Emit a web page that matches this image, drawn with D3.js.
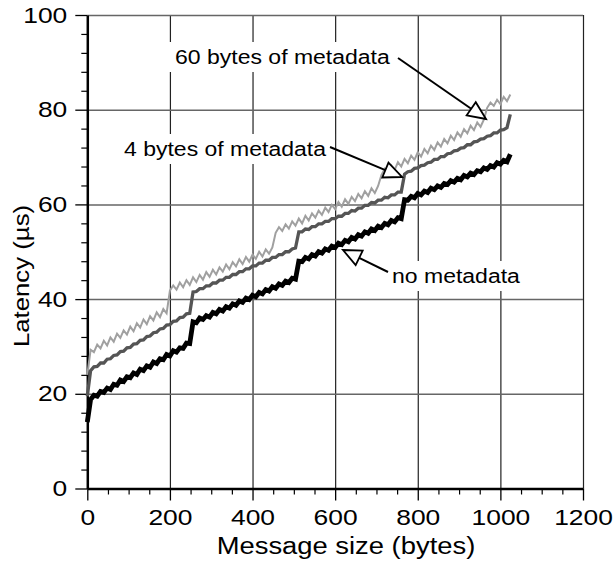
<!DOCTYPE html>
<html>
<head>
<meta charset="utf-8">
<script src="https://cdn.jsdelivr.net/npm/d3@7"></script>
<style>
  body { margin: 0; background: #fff; }
  text { font-family: "Liberation Sans", Arial, Helvetica, sans-serif; fill: #000; }
</style>
</head>
<body>
<div id="chart-area"></div>
<script>
// message size in bytes (x of every series)
var msgSize = [0,8,16,24,32,40,48,56,64,72,80,88,96,104,112,120,128,136,144,152,160,168,176,184,192,200,
  208,216,224,232,240,248,256,264,272,280,288,296,304,312,320,328,336,344,352,360,368,376,384,392,400,
  408,416,424,432,440,448,456,464,472,480,488,496,504,512,520,528,536,544,552,560,568,576,584,592,600,
  608,616,624,632,640,648,656,664,672,680,688,696,704,712,720,728,736,744,752,760,768,776,784,792,800,
  808,816,824,832,840,848,856,864,872,880,888,896,904,912,920,928,936,944,952,960,968,976,984,992,1000,
  1008,1016,1024];

// latency (us), 60 bytes of metadata
var meta60 = [24.0,
  29.3,28.8,30.4,29.6,31.2,30.2,31.9,31.0,32.7,31.8,33.4,32.5,34.2,33.2,34.9,34.0,35.7,34.7,36.4,35.5,37.2,36.2,37.9,37.0,
  41.8,42.9,42.0,43.5,42.5,44.0,43.0,44.6,43.6,45.1,44.1,45.7,44.7,46.2,45.2,46.7,45.8,47.3,46.3,47.8,46.9,48.4,47.4,48.9,47.9,49.4,48.5,50.0,49.0,50.5,49.6,50.9,
  54.0,55.2,54.4,55.8,54.9,56.4,55.5,57.0,56.0,57.6,56.6,58.1,57.2,58.7,57.8,59.3,58.4,59.9,59.0,60.5,59.5,61.1,60.1,61.6,60.7,62.2,61.3,62.8,61.8,63.4,62.4,63.9,
  66.2,67.5,66.6,68.2,67.3,68.9,68.0,69.6,68.7,70.3,69.4,71.0,70.1,71.7,70.8,72.4,71.5,73.1,72.2,73.8,72.9,74.5,73.6,75.2,74.3,75.9,75.0,76.6,75.7,77.3,76.4,77.9,
  80.4,81.5,80.8,82.1,81.2,82.7,81.8,83.2];

// latency (us), 4 bytes of metadata
var meta4 = [19.5,
  24.9,25.7,25.8,26.5,26.5,27.3,27.4,28.1,28.2,28.9,29.0,29.7,29.8,30.5,30.6,31.3,31.4,32.1,32.2,32.9,33.0,33.7,33.8,34.5,34.6,35.3,35.4,36.1,36.2,36.9,37.0,
  41.5,41.6,42.2,42.2,42.8,42.8,43.4,43.4,44.0,44.0,44.6,44.6,45.2,45.2,45.8,45.8,46.4,46.4,47.0,47.0,47.6,47.6,48.2,48.2,48.8,48.8,49.4,49.4,50.0,50.0,50.6,50.8,
  54.2,54.2,54.8,54.7,55.3,55.3,55.9,55.9,56.4,56.4,57.0,57.0,57.5,57.5,58.1,58.1,58.7,58.6,59.2,59.2,59.8,59.8,60.4,60.3,60.9,60.9,61.5,61.4,62.0,62.0,62.6,62.6,
  66.4,66.9,67.0,67.6,67.7,68.2,68.3,68.8,68.9,69.5,69.5,70.1,70.1,70.7,70.8,71.3,71.4,71.9,72.0,72.6,72.6,73.2,73.3,73.8,73.9,74.4,74.5,75.1,75.1,75.7,75.8,76.2,
  79.0];

// latency (us), no metadata
var noMeta = [14.0,
  18.8,19.7,19.5,20.5,20.3,21.2,20.9,22.0,21.8,22.9,22.6,23.6,23.4,24.4,24.1,25.2,24.9,25.9,25.6,26.7,26.4,27.4,27.2,28.3,28.0,29.1,28.8,29.7,29.6,30.7,30.6,
  35.2,35.0,36.0,35.7,36.5,36.2,37.2,36.9,37.8,37.5,38.4,38.1,39.0,38.7,39.6,39.3,40.2,39.9,40.8,40.5,41.4,41.1,42.0,41.7,42.6,42.3,43.2,42.9,43.8,43.5,44.4,44.2,
  48.0,47.9,48.8,48.5,49.4,49.1,50.0,49.7,50.6,50.3,51.2,50.9,51.8,51.5,52.4,52.1,53.0,52.7,53.6,53.3,54.2,53.9,54.8,54.5,55.4,55.1,56.0,55.7,56.6,56.3,57.2,57.0,
  61.0,60.9,61.7,61.4,62.3,62.0,62.8,62.5,63.4,63.1,63.9,63.6,64.4,64.2,65.0,64.7,65.5,65.2,66.1,65.8,66.6,66.3,67.1,66.9,67.7,67.4,68.2,67.9,68.8,68.5,69.3,69.0,
  70.6];

var xTicks = [0, 200, 400, 600, 800, 1000, 1200];
var xMinor = [50,100,150,250,300,350,450,500,550,650,700,750,850,900,950,1050,1100,1150];
var yTicks = [0, 20, 40, 60, 80, 100];
var yMinor = [4,8,12,16,24,28,32,36,44,48,52,56,64,68,72,76,84,88,92,96];

var margin = { left:87.3, right:30, top:15, bottom:72.5 };
var width = 613 - margin.left - margin.right,
    height = 561 - margin.top - margin.bottom;

var svg = d3.select("#chart-area")
    .append("svg")
        .attr("width", 613)
        .attr("height", 561);

var g = svg.append("g")
    .attr("transform", "translate(" + margin.left + "," + margin.top + ")");

var x = d3.scaleLinear().domain([0, 1200]).range([0, width]);
var y = d3.scaleLinear().domain([0, 100]).range([height, 0]);

// stretch text horizontally (the original font is wider than Arial)
function stretch(sel, k) {
  sel.each(function(){
    var w = this.getComputedTextLength();
    d3.select(this).attr("textLength", w * k).attr("lengthAdjust", "spacingAndGlyphs");
  });
}

// grid
g.append("g")
    .attr("transform", "translate(0," + height + ")")
    .call(d3.axisBottom(x).tickValues(xTicks.slice(1)).tickSize(-height).tickFormat(""))
    .call(function(a){ a.select(".domain").remove(); })
    .selectAll("line")
      .attr("stroke", "#222")
      .attr("stroke-width", 1.2);

g.append("g")
    .call(d3.axisLeft(y).tickValues(yTicks.slice(1)).tickSize(-width).tickFormat(""))
    .call(function(a){ a.select(".domain").remove(); })
    .selectAll("line")
      .attr("stroke", "#666")
      .attr("stroke-width", 1.5);

// minor ticks
g.append("g")
    .attr("transform", "translate(0," + height + ")")
    .call(d3.axisBottom(x).tickValues(xMinor).tickSize(6).tickFormat(""))
    .call(function(a){ a.select(".domain").remove(); })
    .selectAll("line").attr("stroke", "#000").attr("stroke-width", 1.2);

g.append("g")
    .call(d3.axisLeft(y).tickValues(yMinor).tickSize(6).tickFormat(""))
    .call(function(a){ a.select(".domain").remove(); })
    .selectAll("line").attr("stroke", "#000").attr("stroke-width", 1.2);

// major axes
var xAxisGroup = g.append("g")
    .attr("transform", "translate(0," + height + ")")
    .call(d3.axisBottom(x).tickValues(xTicks).tickFormat(d3.format("d"))
      .tickSize(12).tickPadding(9).tickSizeOuter(0));

var yAxisGroup = g.append("g")
    .call(d3.axisLeft(y).tickValues(yTicks).tickFormat(d3.format("d"))
      .tickSize(12).tickPadding(8).tickSizeOuter(0));

[xAxisGroup, yAxisGroup].forEach(function(a){
  a.select(".domain").attr("stroke", "#000").attr("stroke-width", 2.5);
  a.selectAll("line").attr("stroke", "#000").attr("stroke-width", 1.3);
  a.selectAll("text")
      .attr("font-size", "22px")
      .attr("font-family", "'Liberation Sans', Arial, sans-serif")
      .attr("fill", "#000")
      .call(stretch, 1.2);
});

// series
var line = d3.line()
    .x(function(d, i){ return x(msgSize[i]); })
    .y(function(d){ return y(d); });

var series = [
  { name:"60 bytes of metadata", values:meta60, color:"#a0a0a0", w:2 },
  { name:"4 bytes of metadata",  values:meta4,  color:"#555555", w:3.3 },
  { name:"no metadata",          values:noMeta, color:"#000000", w:4.8 }
];

g.selectAll(".series")
    .data(series)
    .enter().append("path")
      .attr("class", "series")
      .attr("fill", "none")
      .attr("stroke", function(d){ return d.color; })
      .attr("stroke-width", function(d){ return d.w; })
      .attr("stroke-linejoin", "miter")
      .attr("d", function(d){ return line(d.values); });

// axis labels
svg.append("text")
    .attr("x", 346)
    .attr("y", 554)
    .attr("font-size", "23px")
    .attr("text-anchor", "middle")
    .text("Message size (bytes)")
    .call(stretch, 1.19);

svg.append("text")
    .attr("transform", "translate(29,276) rotate(-90)")
    .attr("font-size", "22px")
    .attr("text-anchor", "middle")
    .text("Latency (\u00b5s)")
    .call(stretch, 1.17);

// annotations: label with white box, line and hollow arrow head
var notes = [
  { text:"60 bytes of metadata", tx:175, ty:64,  x1:398, y1:58,  x2:486, y2:119 },
  { text:"4 bytes of metadata",  tx:124, ty:156, x1:330, y1:147, x2:402, y2:177 },
  { text:"no metadata",          tx:392, ty:283, x1:388, y1:272, x2:343, y2:250 }
];

notes.forEach(function(n){
  var box = svg.append("rect").attr("fill", "#fff");
  var t = svg.append("text")
      .attr("x", n.tx)
      .attr("y", n.ty)
      .attr("font-size", "20px")
      .text(n.text)
      .call(stretch, 1.15);
  var b = t.node().getBBox();
  box.attr("x", b.x - 6).attr("y", b.y - 4)
     .attr("width", b.width + 14).attr("height", b.height + 8);

  var dx = n.x2 - n.x1, dy = n.y2 - n.y1;
  var len = Math.sqrt(dx*dx + dy*dy), ux = dx/len, uy = dy/len;
  var bx = n.x2 - ux*18, by = n.y2 - uy*18;
  svg.append("line")
      .attr("x1", n.x1).attr("y1", n.y1)
      .attr("x2", bx).attr("y2", by)
      .attr("stroke", "#000").attr("stroke-width", 2);
  svg.append("path")
      .attr("d", "M" + n.x2 + "," + n.y2 +
                 "L" + (bx - uy*8) + "," + (by + ux*8) +
                 "L" + (bx + uy*8) + "," + (by - ux*8) + "Z")
      .attr("fill", "#fff")
      .attr("stroke", "#000")
      .attr("stroke-width", 1.8)
      .attr("stroke-linejoin", "miter");
});
</script>
</body>
</html>
